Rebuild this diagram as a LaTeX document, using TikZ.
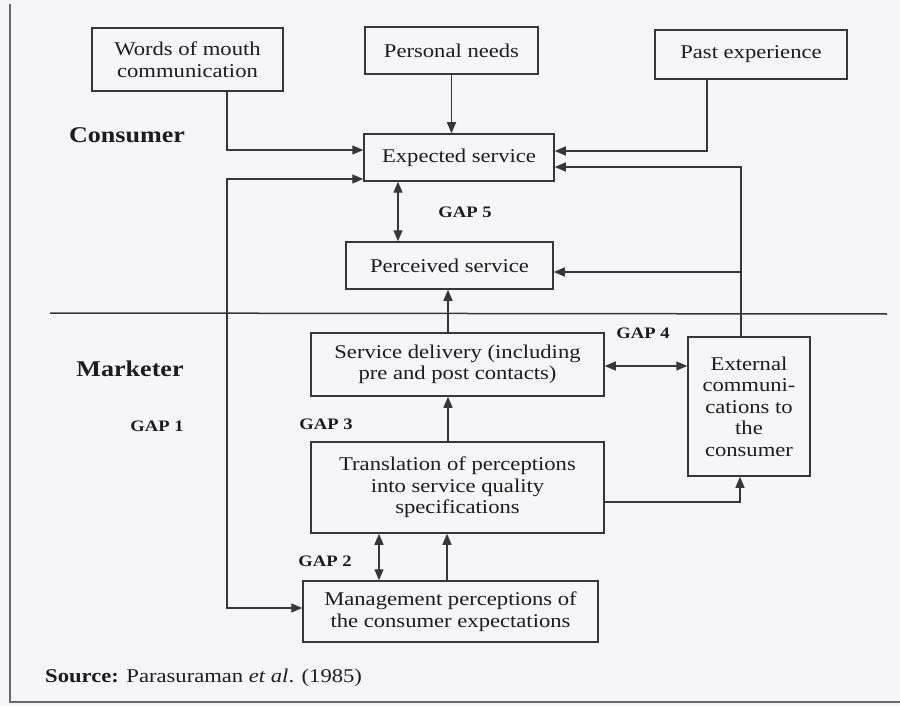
\documentclass[tikz,border=0pt]{standalone}
\usepackage{fontspec}
\setmainfont{Liberation Serif}[FakeStretch=1.16]
\usetikzlibrary{arrows.meta}
\definecolor{paper}{RGB}{246,246,248}
\definecolor{ink}{RGB}{28,28,32}
\definecolor{rule}{RGB}{55,55,58}
\definecolor{frameline}{RGB}{105,105,108}

\begin{document}
\begin{tikzpicture}[x=1pt,y=-1pt,
  box/.style={draw=rule,line width=1.5pt,inner sep=0pt,align=center,text=ink,
    font=\fontsize{19.5}{21.5}\selectfont},
  side/.style={text=ink,inner sep=0pt,anchor=base,font=\bfseries\fontsize{22.5}{24}\selectfont},
  gaplabel/.style={text=ink,inner sep=0pt,anchor=base,font=\bfseries\fontsize{16}{18}\selectfont},
  arr/.style={draw=rule,line width=1.4pt,-{Triangle[length=11pt,width=9pt]}},
  arrboth/.style={draw=rule,line width=1.4pt,{Triangle[length=11pt,width=9pt]}-{Triangle[length=11pt,width=9pt]}}]

% page
\fill[paper] (0,0) rectangle (900,706);
\useasboundingbox (0,0) rectangle (900,706);
\draw[frameline,line width=2pt] (10,4) -- (10,702) -- (900,702);

% consumer / marketer divider
\coordinate (divL) at (50,313);
\coordinate (divR) at (887,314);
\draw[rule,line width=1.5pt] (divL) -- (divR);

% boxes
\node[box,minimum width=191pt,minimum height=63pt] (wom) at (187.5,59.5) {Words of mouth\\communication};
\node[box,minimum width=173pt,minimum height=47pt] (needs) at (451.5,50.5) {Personal needs};
\node[box,minimum width=192pt,minimum height=49pt] (past) at (751,54.5) {Past experience};
\node[box,minimum width=190pt,minimum height=47pt] (expected) at (459,157.5) {Expected service};
\node[box,minimum width=207pt,minimum height=47pt] (perceived) at (449.5,265.5) {Perceived service};
\node[box,minimum width=293pt,minimum height=63pt] (delivery) at (457.5,364.5) {Service delivery (including\\pre and post contacts)};
\node[box,minimum width=122pt,minimum height=139pt] (extcom) at (749,406.5) {External\\communi-\\cations to\\the\\consumer};
\node[box,minimum width=293pt,minimum height=91pt] (transl) at (457.5,487.5) {Translation of perceptions\\into service quality\\specifications};
\node[box,minimum width=295pt,minimum height=61pt] (mgmt) at (450.5,611.5) {Management perceptions of\\the consumer expectations};

% side labels
\node[side] (consumer) at (127,143) {Consumer};
\node[side] (marketer) at (130,376) {Marketer};

% gap labels
\node[gaplabel] (gap1) at (157,431) {GAP 1};
\node[gaplabel] (gap2) at (325,566) {GAP 2};
\node[gaplabel] (gap3) at (326,429) {GAP 3};
\node[gaplabel] (gap4) at (643,338) {GAP 4};
\node[gaplabel] (gap5) at (465,218) {GAP 5};

% source line
\node[text=ink,inner sep=0pt,anchor=base west,font=\fontsize{19.5}{21.5}\selectfont] (source) at (45,682)
  {\textbf{Source:} Parasuraman \textit{et al}. (1985)};

% influences on expected service
\draw[arr] ([xshift=39.5pt]wom.south) |- ([yshift=7.5pt]expected.west);
\draw[arr] (needs.south) -- (needs.south |- expected.north);
\draw[arr] ([xshift=-44pt]past.south) |- ([yshift=6.5pt]expected.east);

% external communications feeding back to the consumer side
\draw[arr] ([xshift=-8pt]extcom.north) |- ([yshift=-9.5pt]expected.east);
\draw[arr] ([xshift=-8pt]extcom.north) |- ([yshift=-6.5pt]perceived.east);

% GAP 5
\draw[arrboth] ([xshift=-61pt]expected.south) -- ([xshift=-61pt]expected.south |- perceived.north);

% service chain upwards
\draw[arr] ([xshift=-9.5pt]delivery.north) -- ([xshift=-9.5pt]delivery.north |- perceived.south);
\draw[arr] ([xshift=-9.5pt]transl.north) -- ([xshift=-9.5pt]transl.north |- delivery.south);
\draw[arr] ([xshift=-3.5pt]mgmt.north) -- ([xshift=-3.5pt]mgmt.north |- transl.south);

% GAP 4
\draw[arrboth] ([yshift=-1.5pt]delivery.east) -- ([yshift=-1.5pt]delivery.east -| extcom.west);
\draw[arr] ([yshift=-14.5pt]transl.east) -| ([xshift=-9pt]extcom.south);

% GAP 2
\draw[arrboth] ([xshift=-71.5pt]mgmt.north) -- ([xshift=-71.5pt]mgmt.north |- transl.south);

% GAP 1
\coordinate (gapcorner) at (227,608);
\draw[arrboth] ([yshift=-21.5pt]expected.west) -| (gapcorner) -- (gapcorner -| mgmt.west);

\end{tikzpicture}
\end{document}
